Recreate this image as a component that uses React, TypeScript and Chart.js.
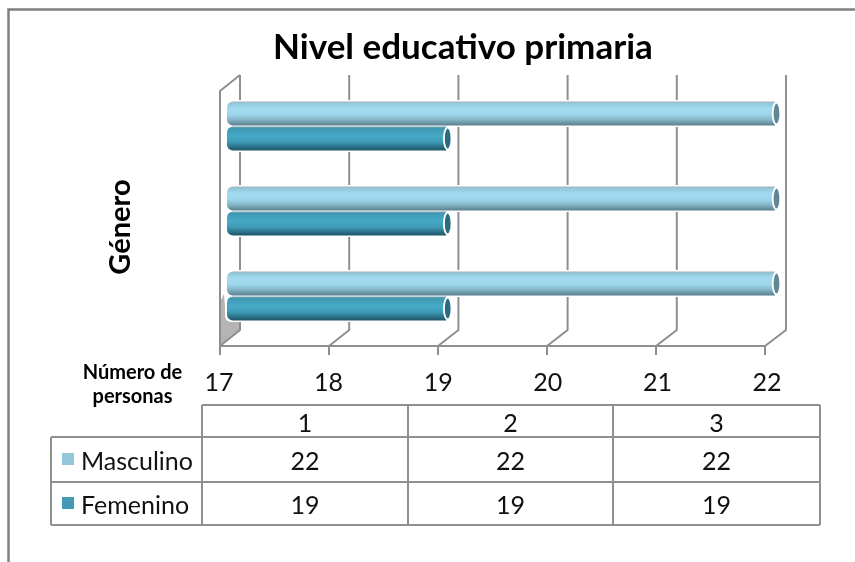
import React, { useEffect, useRef } from "react";
import { Chart, registerables } from "chart.js";

Chart.register(...registerables);

const titleText = "Nivel educativo primaria";
const categories = ["1", "2", "3"];
const masculino = [22, 22, 22];
const femenino = [19, 19, 19];
const seriesNames = ["Masculino", "Femenino"];
const swatchColors = ["#93c6d9", "#429ab5"];
const xMin = 17;
const xMax = 22;
const yTitle = "Género";
const xTitleLines = ["Número de", "personas"];
const FONT = "Lato, Carlito, 'Open Sans', sans-serif";
const GRID = "#8f8f8f";
const TEXT = "#111111";

const depthPlugin = {
  id: "depth",
  afterLayout(chart: any) {
    // the title sits a little to the right of the padded box's centre
    chart.titleBlock.left = 151;
  },
  beforeDatasetsDraw(chart: any) {
    const { ctx, scales, chartArea } = chart;
    const x = scales.x;
    const toFront = (p: number) => 220 + ((p - chartArea.left) * 545) / chartArea.width;
    const toBack = (p: number) => 240 + ((p - chartArea.left) * 546) / chartArea.width;
    const top = 75, backBottom = 330, floor = 346, tick = 355;
    ctx.save();
    // shadow on the wall and floor behind the lowest bars
    ctx.fillStyle = "#b4b4b4";
    ctx.beginPath();
    ctx.moveTo(221, 344);
    ctx.lineTo(240, 331);
    ctx.lineTo(240, 320);
    ctx.lineTo(226, 320);
    ctx.lineTo(224, 294);
    ctx.lineTo(221, 300);
    ctx.closePath();
    ctx.fill();
    ctx.strokeStyle = GRID;
    ctx.lineWidth = 2;
    x.ticks.forEach((t: any) => {
      const p = x.getPixelForValue(t.value);
      const f = toFront(p), b = toBack(p);
      ctx.beginPath();
      ctx.moveTo(b, top);
      ctx.lineTo(b, backBottom);
      ctx.lineTo(f, floor);
      ctx.moveTo(f, floor);
      ctx.lineTo(f, tick);
      ctx.stroke();
    });
    ctx.beginPath();
    ctx.moveTo(240, top);
    ctx.lineTo(220, 91);
    ctx.lineTo(220, floor);
    ctx.lineTo(765, floor);
    ctx.stroke();
    // white halo round the bars
    chart.data.datasets.forEach((_: any, i: number) => {
      chart.getDatasetMeta(i).data.forEach((el: any) => {
        ctx.fillStyle = "#ffffff";
        ctx.beginPath();
        ctx.roundRect(el.base - 2, el.y - el.height / 2 - 1.5, el.x - el.base + 9, el.height + 3, 6);
        ctx.fill();
      });
    });
    ctx.restore();
    // cylinder shading
    const stops = [
      [[0, "#a3b4ba"], [0.08, "#93c7da"], [0.3, "#a2dbf0"], [0.55, "#9dd5ea"], [0.75, "#86b7c9"], [0.9, "#6b95a4"], [1, "#5a808e"]],
      [[0, "#7fa6b3"], [0.08, "#3f98b2"], [0.4, "#46aac7"], [0.65, "#3f9ab5"], [0.85, "#2b7188"], [1, "#1f5566"]],
    ];
    chart.data.datasets.forEach((_: any, i: number) => {
      chart.getDatasetMeta(i).data.forEach((el: any) => {
        const g = ctx.createLinearGradient(0, el.y - el.height / 2, 0, el.y + el.height / 2);
        stops[i].forEach((s: any) => g.addColorStop(s[0], s[1]));
        el.options = { ...el.options, backgroundColor: g };
      });
    });
  },
  afterDatasetsDraw(chart: any) {
    const { ctx } = chart;
    const caps = ["#5f8796", "#2a6b80"];
    ctx.save();
    chart.data.datasets.forEach((_: any, i: number) => {
      chart.getDatasetMeta(i).data.forEach((el: any) => {
        ctx.beginPath();
        ctx.ellipse(el.x + 1.5, el.y, 3.8, el.height / 2 - 1, 0, 0, Math.PI * 2);
        ctx.fillStyle = caps[i];
        ctx.fill();
        ctx.strokeStyle = "#ffffff";
        ctx.lineWidth = 1.8;
        ctx.stroke();
      });
    });
    ctx.restore();
  },
};

const framePlugin = {
  id: "frame",
  afterDraw(chart: any) {
    const { ctx } = chart;
    ctx.save();
    // outer frame
    ctx.strokeStyle = "#808080";
    ctx.lineWidth = 2.5;
    ctx.beginPath();
    ctx.moveTo(8.5, 562);
    ctx.lineTo(8.5, 9.5);
    ctx.lineTo(855, 9.5);
    ctx.stroke();

    // axis titles
    ctx.fillStyle = "#000000";
    ctx.textAlign = "center";
    ctx.textBaseline = "middle";
    ctx.font = `bold 20px ${FONT}`;
    ctx.fillText(xTitleLines[0], 132.5, 373);
    ctx.fillText(xTitleLines[1], 132.5, 397);
    ctx.save();
    ctx.translate(121, 227);
    ctx.rotate(-Math.PI / 2);
    ctx.font = `bold 29px ${FONT}`;
    ctx.fillText(yTitle, 0, 0);
    ctx.restore();

    // data table
    const cols = [51, 202, 408, 613, 820];
    const rows = [405, 437, 482, 525];
    ctx.strokeStyle = GRID;
    ctx.lineWidth = 2;
    ctx.beginPath();
    ctx.moveTo(cols[1], rows[0]);
    ctx.lineTo(cols[4], rows[0]);
    [1, 2, 3].forEach((r) => {
      ctx.moveTo(cols[0], rows[r]);
      ctx.lineTo(cols[4], rows[r]);
    });
    ctx.moveTo(cols[0], rows[1]);
    ctx.lineTo(cols[0], rows[3]);
    [1, 2, 3, 4].forEach((c) => {
      ctx.moveTo(cols[c], rows[0]);
      ctx.lineTo(cols[c], rows[3]);
    });
    ctx.stroke();

    ctx.fillStyle = TEXT;
    ctx.font = `25px ${FONT}`;
    ctx.textBaseline = "middle";
    ctx.textAlign = "center";
    const rowValues = [masculino, femenino];
    categories.forEach((c, i) => {
      const cx = (cols[i + 1] + cols[i + 2]) / 2;
      ctx.fillText(c, cx, 424);
      rowValues.forEach((vals, r) => {
        ctx.fillText(String(vals[i]), cx, r === 0 ? 462 : 506);
      });
    });
    ctx.textAlign = "left";
    seriesNames.forEach((n, r) => {
      const y = r === 0 ? 462 : 506;
      ctx.fillStyle = TEXT;
      ctx.fillText(n, 81, y);
      ctx.fillStyle = swatchColors[r];
      ctx.fillRect(62, y - 9, 12, 12);
    });
    ctx.restore();
  },
};

export default function App() {
  const ref = useRef<HTMLCanvasElement>(null);
  useEffect(() => {
    document.body.style.margin = "0";
    const chart = new Chart(ref.current as HTMLCanvasElement, {
      type: "bar",
      data: {
        labels: categories,
        datasets: [
          { label: seriesNames[0], data: masculino, backgroundColor: swatchColors[0] },
          { label: seriesNames[1], data: femenino, backgroundColor: swatchColors[1] },
        ],
      },
      options: {
        indexAxis: "y",
        responsive: false,
        animation: false,
        layout: { padding: { left: 107, right: 80, top: 0, bottom: 0 } },
        datasets: {
          bar: {
            base: xMin,
            categoryPercentage: 50 / 85,
            barPercentage: 0.96,
            borderSkipped: false,
            borderRadius: { topLeft: 6, bottomLeft: 6, topRight: 0, bottomRight: 0 },
          },
        },
        plugins: {
          legend: { display: false },
          tooltip: { enabled: false },
          title: {
            display: true,
            text: titleText,
            color: "#000000",
            font: { family: FONT, size: 35, weight: "bold", lineHeight: 1.2 },
            padding: { top: 27, bottom: 14.5 },
          },
        },
        scales: {
          x: {
            type: "linear",
            min: xMin,
            max: xMax,
            afterFit: (s: any) => { s.height = 223.5; },
            grid: { display: false },
            border: { display: false },
            ticks: {
              stepSize: 1,
              color: TEXT,
              labelOffset: -8,
              padding: 21,
              font: { family: FONT, size: 25 },
              maxRotation: 0,
            },
          },
          y: {
            type: "category",
            afterFit: (s: any) => { s.width = 120; },
            grid: { display: false },
            border: { display: false },
            ticks: { display: false },
          },
        },
      },
      plugins: [depthPlugin, framePlugin],
    } as any);
    return () => chart.destroy();
  }, []);
  return <canvas ref={ref} width={855} height={562} style={{ display: "block", filter: "blur(0.4px)" }} />;
}
